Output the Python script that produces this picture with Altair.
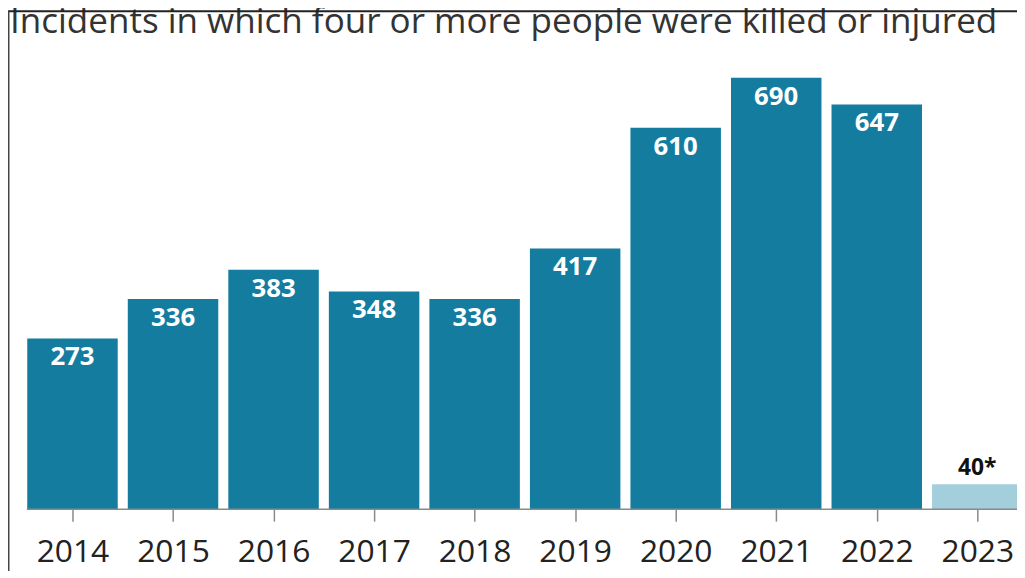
import altair as alt
import pandas as pd

years = [2014, 2015, 2016, 2017, 2018, 2019, 2020, 2021, 2022, 2023]
incidents = [273, 336, 383, 348, 336, 417, 610, 690, 647, 40]
labels = ["273", "336", "383", "348", "336", "417", "610", "690", "647", "40*"]
partial = [False] * 9 + [True]
title_text = "Incidents in which four or more people were killed or injured"

df = pd.DataFrame({"year": years, "n": incidents, "label": labels, "partial": partial})

DARK = "#137c9f"
LIGHT = "#a3cfdc"
AXIS_GRAY = "#8a8a8a"
FONT = "Open Sans"

PAD_L = 14
PLOT_W = 1003
PLOT_H = 463
Y_MAX = 734.5
X_DOMAIN = [2013.4967, 2023.395]
HALF = 0.45

xscale = alt.Scale(domain=X_DOMAIN, nice=False, zero=False)
x_axis = alt.Axis(values=years, format="d", labelAngle=0, labelFontSize=32, labelFont=FONT,
                  labelColor="#222", domain=False, tickColor=AXIS_GRAY, tickWidth=1.5,
                  tickSize=12, labelPadding=16, grid=False, labelFlush=False, labelOverlap=False)
y = alt.Y("n:Q", title=None, scale=alt.Scale(domain=[0, Y_MAX], nice=False, zero=True), axis=None)

base = alt.Chart(df)

bars = base.transform_calculate(
    x0=f"datum.year - {HALF}", x1=f"datum.year + {HALF}"
).mark_bar(clip=True).encode(
    x=alt.X("x0:Q", title=None, scale=xscale, axis=x_axis),
    x2="x1:Q",
    y=y,
    y2=alt.datum(0),
    color=alt.Color("partial:N", scale=alt.Scale(domain=[False, True], range=[DARK, LIGHT]), legend=None),
)

xt = alt.X("year:Q", scale=xscale, title=None)

inner = base.transform_filter("!datum.partial").mark_text(
    color="white", fontSize=26, fontWeight="bold", font=FONT, baseline="alphabetic", dy=27
).encode(x=xt, y=y, text="label:N")

outer = base.transform_filter("datum.partial").mark_text(
    color="#111", fontSize=23, fontWeight="bold", font=FONT, baseline="alphabetic", dy=-9
).encode(x=xt, y=y, text="label:N")

frame_df = pd.DataFrame({"t": [title_text]})
title = alt.Chart(frame_df).mark_text(
    align="left", baseline="alphabetic", fontSize=35.3, font=FONT, color="#333"
).encode(x=alt.value(-12), y=alt.value(-17), text="t:N")
baseline_rule = alt.Chart(frame_df).mark_rule(color=AXIS_GRAY, strokeWidth=1.5).encode(
    x=alt.value(5), x2=alt.value(PLOT_W), y=alt.value(PLOT_H))
top_line = alt.Chart(frame_df).mark_rule(color="#222", strokeWidth=2).encode(
    x=alt.value(-PAD_L), x2=alt.value(PLOT_W), y=alt.value(-39))
left_line = alt.Chart(frame_df).mark_rule(color="#444", strokeWidth=1.5).encode(
    x=alt.value(-PAD_L + 0.75), y=alt.value(-39), y2=alt.value(PLOT_H + 80))

chart = alt.layer(bars, inner, outer, baseline_rule, title, top_line, left_line).properties(
    width=PLOT_W, height=PLOT_H,
    autosize=alt.AutoSizeParams(type="none"),
    padding={"left": PAD_L, "top": 40, "right": 0, "bottom": 60},
).configure_view(stroke=None)

chart.save("out.html", embed_options={"renderer": "svg", "actions": False})
